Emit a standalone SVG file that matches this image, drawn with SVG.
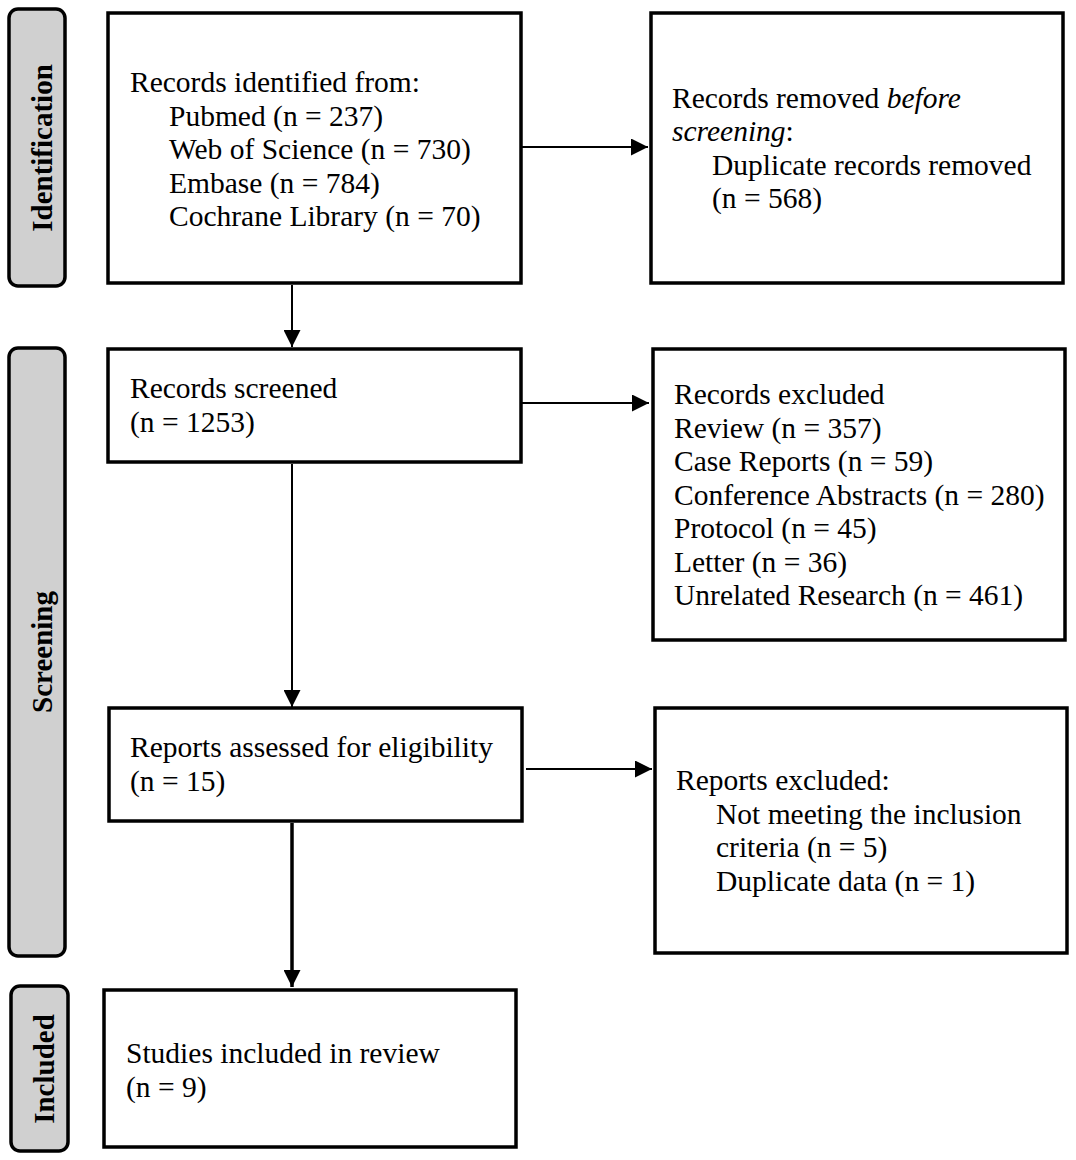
<svg xmlns="http://www.w3.org/2000/svg" width="1076" height="1160" viewBox="0 0 1076 1160">
<style>
.box{fill:#fff;stroke:#000;stroke-width:3.5}
.side{fill:#d0d0d0;stroke:#000;stroke-width:3.5}
.t{font-family:"Liberation Serif","Times New Roman",serif;font-size:29.5px;fill:#000}
.lbl{font-family:"Liberation Serif","Times New Roman",serif;font-size:29px;font-weight:bold;fill:#000;text-anchor:middle}
.c{stroke:#000;stroke-width:2;fill:none}
.ct{stroke:#000;stroke-width:3.5;fill:none}
</style>
<defs>
<marker id="ah" markerUnits="userSpaceOnUse" markerWidth="17" markerHeight="17" refX="17" refY="8.5" orient="auto" viewBox="0 0 17 17">
<path d="M0,0 L17,8.5 L0,17 z" fill="#000"/>
</marker>
</defs>
<rect width="1076" height="1160" fill="#fff"/>

<g id="label-identification">
<rect class="side" x="9" y="9" width="56" height="277" rx="9"/>
<text class="lbl" transform="translate(52,148) rotate(-90)">Identification</text>
</g>
<g id="label-screening">
<rect class="side" x="9" y="348" width="56" height="608" rx="9"/>
<text class="lbl" transform="translate(52,652) rotate(-90)">Screening</text>
</g>
<g id="label-included">
<rect class="side" x="11" y="986" width="57" height="165" rx="9"/>
<text class="lbl" transform="translate(54,1069) rotate(-90)">Included</text>
</g>

<g id="connectors">
<line class="c" x1="522" y1="147" x2="648" y2="147" marker-end="url(#ah)"/>
<line class="c" x1="292" y1="285" x2="292" y2="347" marker-end="url(#ah)"/>
<line class="c" x1="522" y1="403" x2="649" y2="403" marker-end="url(#ah)"/>
<line class="c" x1="292" y1="464" x2="292" y2="707" marker-end="url(#ah)"/>
<line class="c" x1="526" y1="769" x2="652" y2="769" marker-end="url(#ah)"/>
<line class="ct" x1="292" y1="823" x2="292" y2="987" marker-end="url(#ah)"/>
</g>

<g id="n1">
<rect class="box" x="108" y="13" width="413" height="270"/>
<text class="t" x="130" y="92">Records identified from:</text>
<text class="t" x="169" y="125.5">Pubmed (n = 237)</text>
<text class="t" x="169" y="159">Web of Science (n = 730)</text>
<text class="t" x="169" y="192.5">Embase (n = 784)</text>
<text class="t" x="169" y="226">Cochrane Library (n = 70)</text>
</g>
<g id="n2">
<rect class="box" x="651" y="13" width="412" height="270"/>
<text class="t" x="672" y="108">Records removed <tspan font-style="italic">before</tspan></text>
<text class="t" x="672" y="141"><tspan font-style="italic">screening</tspan>:</text>
<text class="t" x="712" y="175">Duplicate records removed</text>
<text class="t" x="712" y="208">(n = 568)</text>
</g>
<g id="n3">
<rect class="box" x="108" y="349" width="413" height="113"/>
<text class="t" x="130" y="398">Records screened</text>
<text class="t" x="130" y="432">(n = 1253)</text>
</g>
<g id="n4">
<rect class="box" x="653" y="349" width="412" height="291"/>
<text class="t" x="674" y="404">Records excluded</text>
<text class="t" x="674" y="437.5">Review (n = 357)</text>
<text class="t" x="674" y="471">Case Reports (n = 59)</text>
<text class="t" x="674" y="504.5">Conference Abstracts (n = 280)</text>
<text class="t" x="674" y="538">Protocol (n = 45)</text>
<text class="t" x="674" y="571.5">Letter (n = 36)</text>
<text class="t" x="674" y="605">Unrelated Research (n = 461)</text>
</g>
<g id="n5">
<rect class="box" x="109" y="708" width="413" height="113"/>
<text class="t" x="130" y="757">Reports assessed for eligibility</text>
<text class="t" x="130" y="791">(n = 15)</text>
</g>
<g id="n6">
<rect class="box" x="655" y="708" width="412" height="245"/>
<text class="t" x="676" y="790">Reports excluded:</text>
<text class="t" x="716" y="823.5">Not meeting the inclusion</text>
<text class="t" x="716" y="857">criteria (n = 5)</text>
<text class="t" x="716" y="890.5">Duplicate data (n = 1)</text>
</g>
<g id="n7">
<rect class="box" x="104" y="990" width="412" height="157"/>
<text class="t" x="126" y="1063">Studies included in review</text>
<text class="t" x="126" y="1097">(n = 9)</text>
</g>
</svg>
